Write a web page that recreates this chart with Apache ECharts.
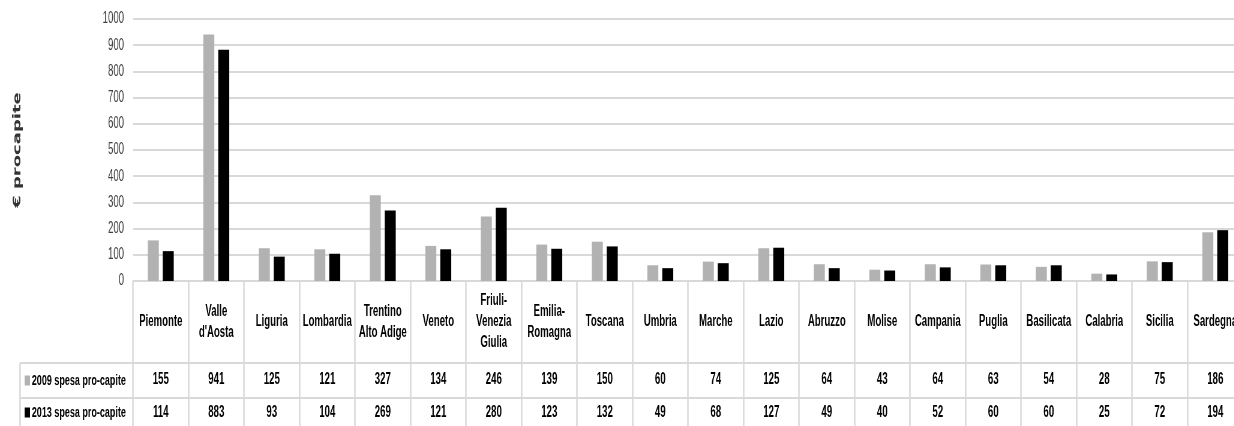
<!DOCTYPE html>
<html>
<head>
<meta charset="utf-8">
<script src="https://cdn.jsdelivr.net/npm/echarts@6/dist/echarts.min.js"></script>
<style>
html,body{margin:0;padding:0;background:#fff;overflow:hidden;width:1234px;height:426px;}
#chart{width:2120px;height:426px;transform:scaleX(0.6);transform-origin:0 0;}
</style>
</head>
<body>
<div id="chart"></div>
<script>
const regions = ["Piemonte","Valle\nd'Aosta","Liguria","Lombardia","Trentino\nAlto Adige","Veneto","Friuli-\nVenezia\nGiulia","Emilia-\nRomagna","Toscana","Umbria","Marche","Lazio","Abruzzo","Molise","Campania","Puglia","Basilicata","Calabria","Sicilia","Sardegna"];
const spesa2009 = [155,941,125,121,327,134,246,139,150,60,74,125,64,43,64,63,54,28,75,186];
const spesa2013 = [114,883,93,104,269,121,280,123,132,49,68,127,49,40,52,60,60,25,72,194];
const yTicks = {min:0, max:1000, interval:100};
const seriesNames = ["2009 spesa pro-capite","2013 spesa pro-capite"];

// the whole drawing is rendered wide and squeezed horizontally (CSS scaleX 0.6)
const FONT = "'Liberation Sans',Arial,sans-serif";
const LINE = '#d9d9d9';
const chart = echarts.init(document.getElementById('chart'), null, {renderer:'canvas'});

function valueAxis(values, offset, margin){
  return {
    type:'category', data: regions, position:'bottom', offset: offset,
    axisLine:{show:true, lineStyle:{color:LINE, width:2}},
    axisTick:{show:false},
    axisLabel:{interval:0, margin:margin, verticalAlign:'middle', fontFamily:FONT, fontWeight:'bold', fontSize:16, color:'#000',
      formatter:(v,i)=>String(values[i])}
  };
}
function legendRow(name, top){
  return {
    left:41, top:top, itemWidth:9, itemHeight:10, icon:'rect', selectedMode:false, padding:0,
    textStyle:{fontFamily:FONT, fontWeight:'bold', fontSize:15, color:'#000', padding:[0,0,0,-2]},
    data:[name]
  };
}

chart.setOption({
  animation:false,
  grid:{left:221.7, top:19, width:1850, height:262},
  legend:[legendRow(seriesNames[0], 373), legendRow(seriesNames[1], 405)],
  xAxis:[
    {
      type:'category', data: regions, position:'bottom',
      axisLine:{show:true, lineStyle:{color:LINE, width:2}},
      axisTick:{show:true, interval:0, length:145, lineStyle:{color:LINE, width:2.5}},
      axisLabel:{interval:0, margin:41, verticalAlign:'middle', lineHeight:21, fontFamily:FONT, fontWeight:'bold', fontSize:16, color:'#000'}
    },
    valueAxis(spesa2009, 82, 17),
    valueAxis(spesa2013, 117, 15)
  ],
  yAxis:{
    type:'value', min:yTicks.min, max:yTicks.max, interval:yTicks.interval,
    name:'€ procapite', nameLocation:'middle', nameRotate:90, nameGap:183,
    nameTextStyle:{fontFamily:"'DejaVu Sans',sans-serif", fontWeight:'bold', fontSize:18, color:'#333'},
    axisLine:{show:false}, axisTick:{show:false},
    axisLabel:{margin:15, fontFamily:FONT, fontSize:16, color:'#404040', formatter:(v)=>String(v)},
    splitLine:{lineStyle:{color:LINE, width:2}}
  },
  graphic:[
    {type:'line', shape:{x1:33.3,y1:363,x2:221.7,y2:363}, style:{stroke:LINE, lineWidth:2}},
    {type:'line', shape:{x1:33.3,y1:398,x2:221.7,y2:398}, style:{stroke:LINE, lineWidth:2}},
    {type:'line', shape:{x1:33.3,y1:363,x2:33.3,y2:426}, style:{stroke:LINE, lineWidth:2.5}}
  ],
  series:[
    {name:seriesNames[0], type:'bar', data:spesa2009, barWidth:18.3, barGap:'36%', itemStyle:{color:'#b2b2b2'}},
    {name:seriesNames[1], type:'bar', data:spesa2013, barWidth:18.3, itemStyle:{color:'#000'}}
  ]
});
</script>
</body>
</html>
